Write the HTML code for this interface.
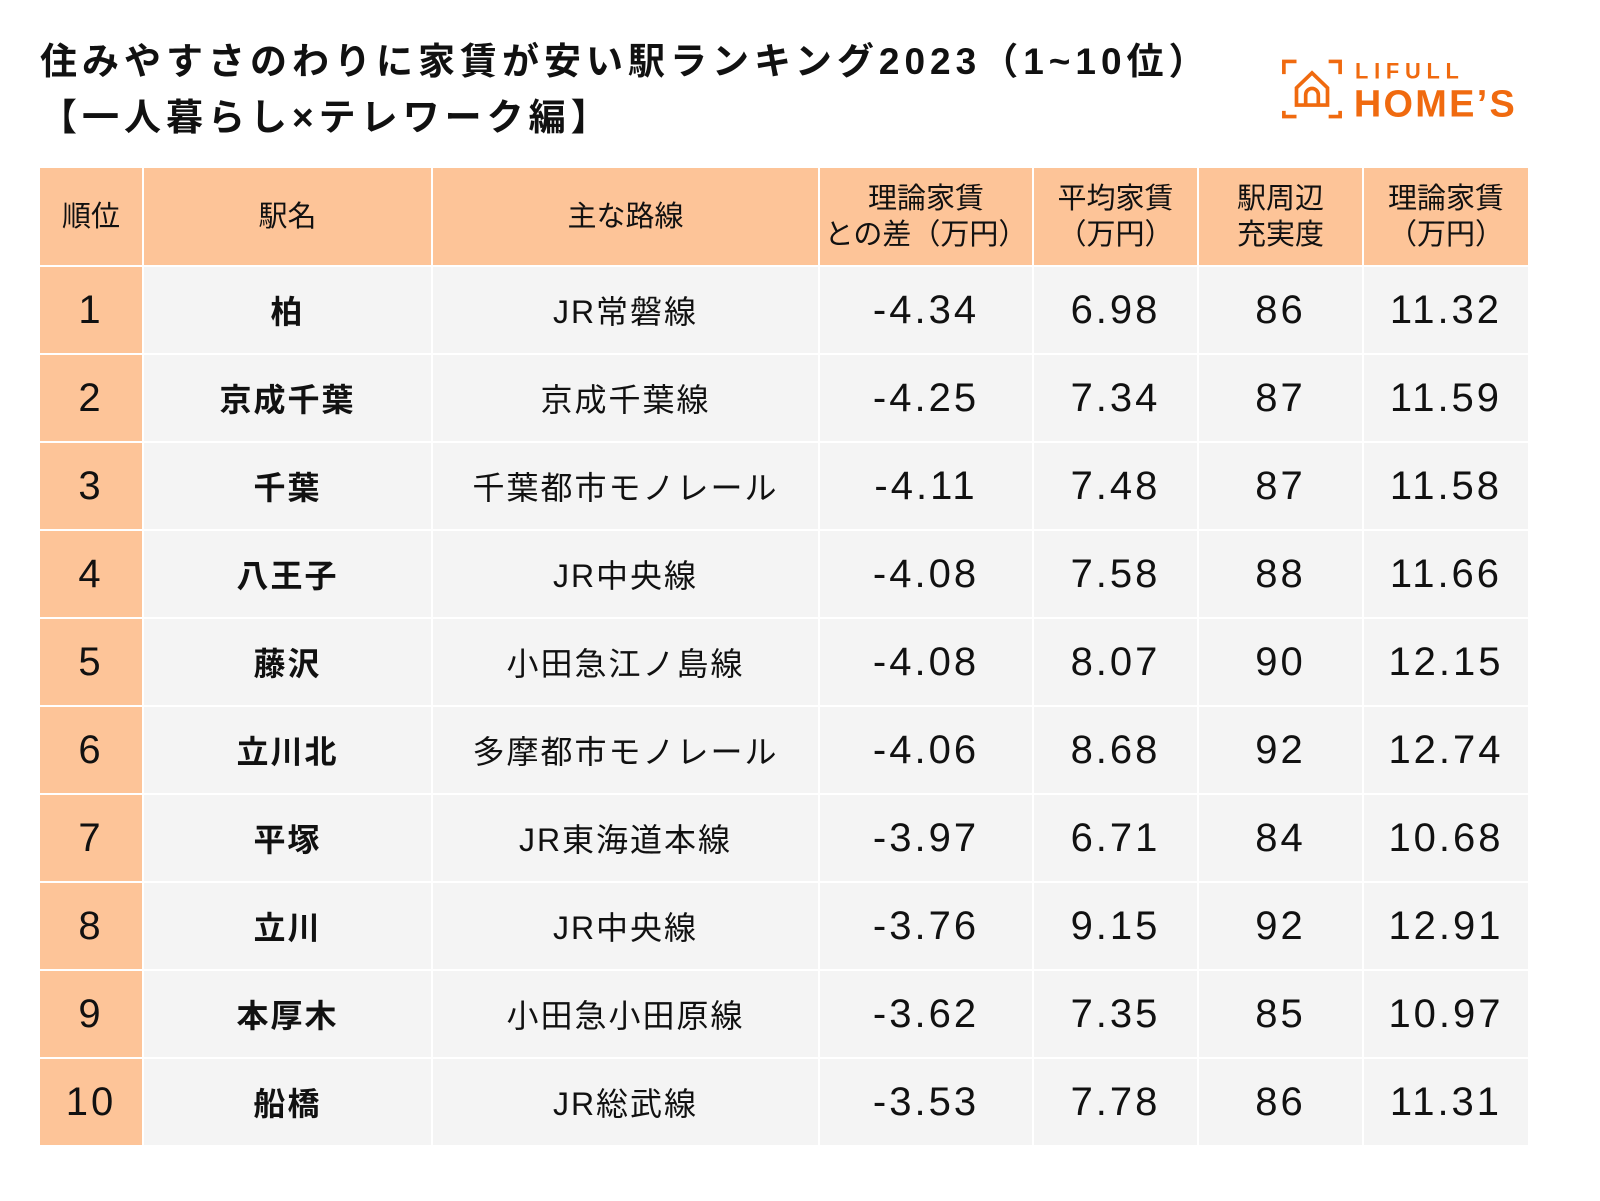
<!DOCTYPE html><html><head><meta charset="utf-8"><style>
body{margin:0;width:1600px;height:1201px;background:#fff;position:relative;font-family:"Liberation Sans","Noto Sans CJK JP",sans-serif;color:#111;overflow:hidden}
.t{position:absolute;left:40px;font-size:37px;letter-spacing:5px;font-weight:bold;line-height:52px;white-space:nowrap}
.c{position:absolute;display:flex;align-items:center;justify-content:center;text-align:center}
.h{background:#fdc498;font-size:29px;line-height:36px}
.r{background:#fdc498;font-size:40px}
.b{background:#f4f4f4}
.n{font-size:40px;font-family:"Liberation Sans",sans-serif;letter-spacing:3px}
.s{font-size:32px;font-weight:bold;letter-spacing:2px}
.l{font-size:32px;letter-spacing:2px}
</style></head><body>
<div class="t" style="top:36px">住みやすさのわりに家賃が安い駅ランキング2023（1~10位）</div>
<div class="t" style="top:92px">【一人暮らし×テレワーク編】</div>
<svg style="position:absolute;left:1280px;top:58px" width="250" height="62" viewBox="0 0 217 54">
<g fill="none" stroke="#f06a0f" stroke-width="3.2">
<path d="M3 14V3H14M42 3H52V14M3 46V51H14M42 51H52V46"/>
<path d="M14 41V26L27.5 13L41 26V41Z"/><path d="M22 41V32a5.5 5.5 0 0 1 11 0V41"/>
</g>
<text x="65" y="18" font-family="Liberation Sans" font-weight="bold" font-size="19" fill="#f06a0f" letter-spacing="5">LIFULL</text>
<text x="64" y="51" font-family="Liberation Sans" font-weight="bold" font-size="33" fill="#f06a0f" letter-spacing="2">HOME’S</text>
</svg>
<div id="tb"></div>
<script>
const cols=[[40,102],[144,287],[433,385],[820,212],[1034,163],[1199,163],[1364,164]];
const hd=["順位","駅名","主な路線","理論家賃<br>との差（万円）","平均家賃<br>（万円）","駅周辺<br>充実度","理論家賃<br>（万円）"];
const d=[["1","柏","JR常磐線","-4.34","6.98","86","11.32"],["2","京成千葉","京成千葉線","-4.25","7.34","87","11.59"],["3","千葉","千葉都市モノレール","-4.11","7.48","87","11.58"],["4","八王子","JR中央線","-4.08","7.58","88","11.66"],["5","藤沢","小田急江ノ島線","-4.08","8.07","90","12.15"],["6","立川北","多摩都市モノレール","-4.06","8.68","92","12.74"],["7","平塚","JR東海道本線","-3.97","6.71","84","10.68"],["8","立川","JR中央線","-3.76","9.15","92","12.91"],["9","本厚木","小田急小田原線","-3.62","7.35","85","10.97"],["10","船橋","JR総武線","-3.53","7.78","86","11.31"]];
let h="";
cols.forEach((c,i)=>{h+=`<div class="c h" style="left:${c[0]}px;top:168px;width:${c[1]}px;height:97px">${hd[i]}</div>`});
d.forEach((row,j)=>{const y=267+88*j;row.forEach((v,i)=>{const c=cols[i];const cl=i==0?"r n":i==1?"b s":i==2?"b l":"b n";h+=`<div class="c ${cl}" style="left:${c[0]}px;top:${y}px;width:${c[1]}px;height:86px">${v}</div>`})});
document.getElementById("tb").innerHTML=h;
</script>
</body></html>
